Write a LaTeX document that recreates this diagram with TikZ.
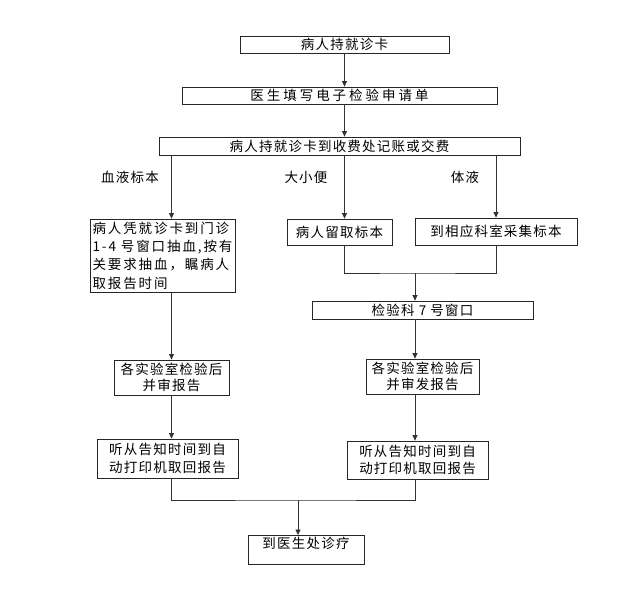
\documentclass[tikz,border=0pt]{standalone}
\usepackage{fontspec}
\setmainfont{Noto Sans CJK SC}[LetterSpace=9]
\usetikzlibrary{arrows.meta}
\begin{document}
\begin{tikzpicture}[x=1pt,y=-1pt,
  box/.style={draw=black!85,line width=0.8pt,inner sep=0pt,font=\fontsize{13.5}{16.5}\selectfont,text=black},
  lbl/.style={inner sep=0pt,font=\fontsize{13.5}{14}\selectfont},
  conn/.style={draw=black!80,line width=0.8pt},
  arr/.style={conn,-{Triangle[length=5.5pt,width=5pt]}}]
\useasboundingbox (0,0) rectangle (628,613);
\fill[white] (0,0) rectangle (628,613);

\node[box,minimum width=209,minimum height=17] (B1) at (344.5,44.5) {病人持就诊卡};
\node[box,minimum width=315,minimum height=17] (B2) at (339.5,95.5) {\addfontfeature{LetterSpace=22}医生填写电子检验申请单};
\node[box,minimum width=361,minimum height=18] (B3) at (339.5,146) {病人持就诊卡到收费处记账或交费};
\node[box,minimum width=145,minimum height=73,align=left,inner xsep=1pt,font=\fontsize{13.5}{18.3}\selectfont] (B4) at (162.5,255.5) {\addfontfeature{LetterSpace=14}病人凭就诊卡到门诊\\\addfontfeature{LetterSpace=14}1-4 号窗口抽血,按有\\\addfontfeature{LetterSpace=14}关要求抽血，瞩病人\\\addfontfeature{LetterSpace=14}取报告时间};
\node[box,minimum width=105,minimum height=26] (B5) at (339.5,232) {病人留取标本};
\node[box,minimum width=162,minimum height=27] (B6) at (496,231.5) {到相应科室采集标本};
\node[box,minimum width=221,minimum height=18] (B7) at (422.5,310) {检验科 7 号窗口};
\node[box,minimum width=115,minimum height=35,align=center] (B8) at (171.5,377.5) {各实验室检验后\\并审报告};
\node[box,minimum width=113,minimum height=35,align=center] (B9) at (422.5,376.5) {各实验室检验后\\并审发报告};
\node[box,minimum width=141,minimum height=39,align=left,font=\fontsize{13.5}{17.5}\selectfont] (B10) at (167.5,458.5) {听从告知时间到自\\动打印机取回报告};
\node[box,minimum width=141,minimum height=38,align=left,font=\fontsize{13.5}{17.5}\selectfont] (B11) at (417.5,460) {听从告知时间到自\\动打印机取回报告};
\node[box,minimum width=116,inner ysep=3pt,text height=10pt,text depth=13pt,anchor=north] (B12) at (306,535) {到医生处诊疗};

\node[lbl] (L1) at (130,177) {血液标本};
\node[lbl] (L2) at (306,177) {大小便};
\node[lbl] (L3) at (465,177) {体液};

\coordinate (J1) at (415,273);
\coordinate (J2) at (298,500);

\draw[arr] (B1.south) -- (B1.south |- B2.north);
\draw[arr] (B1.south |- B2.south) -- (B1.south |- B3.north);
\draw[arr] (B8 |- B3.south) -- (B8 |- B4.north);
\draw[arr] (B1 |- B3.south) -- (B1 |- B5.north);
\draw[arr] (B6 |- B3.south) -- (B6.north);
\draw[conn] (B1 |- B5.south) |- (J1) -| (B6.south);
\draw[arr] (J1) -- (J1 |- B7.north);
\draw[arr] (J1 |- B7.south) -- (J1 |- B9.north);
\draw[arr] (J1 |- B9.south) -- (J1 |- B11.north);
\draw[arr] (B8 |- B4.south) -- (B8.north);
\draw[arr] (B8.south) -- (B8 |- B10.north);
\draw[conn] (B8 |- B10.south) |- (J2) -| (J1 |- B11.south);
\draw[arr] (J2) -- (J2 |- B12.north);
\end{tikzpicture}
\end{document}
